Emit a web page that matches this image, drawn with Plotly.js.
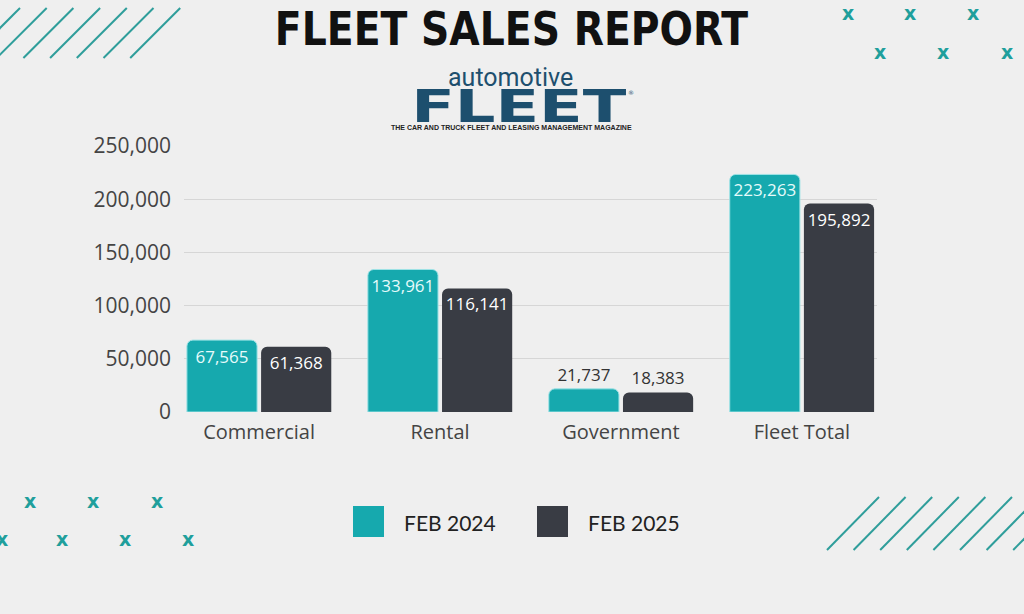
<!DOCTYPE html>
<html>
<head>
<meta charset="utf-8">
<script src="https://cdn.plot.ly/plotly-3.0.1.min.js"></script>
<style>
  html, body { margin: 0; padding: 0; background: #efefef; }
  #chart { width: 1024px; height: 614px; }
</style>
</head>
<body>
<div id="chart"></div>
<script>
// ---- Data ----
const categories = ['Commercial', 'Rental', 'Government', 'Fleet Total'];
const feb2024 = [67565, 133961, 21737, 223263];
const feb2025 = [61368, 116141, 18383, 195892];
const seriesNames = ['FEB 2024', 'FEB 2025'];
const yTickVals = [0, 50000, 100000, 150000, 200000, 250000];
const labelPositions = ['inside', 'inside', 'outside', 'inside'];

// ---- Styles ----
const TEAL = '#16a9ae';
const DARK = '#393c44';
const BG = '#efefef';
const DECO = '#2f9e9b';
const FONT = 'Open Sans, Noto Sans, sans-serif';

// plot area in pixels
const L = 184, R = 877, T = 146, B = 412;
const px = x => (x - L) / (R - L);
const py = y => (B - y) / (B - T);

const traces = [
  {
    type: 'bar', name: seriesNames[0], x: categories, y: feb2024,
    marker: { color: TEAL, cornerradius: 6, line: { color: '#9fe3e6', width: 1 } },
    texttemplate: '%{y:,}', textposition: labelPositions, insidetextanchor: 'end',
    textangle: 0, cliponaxis: false, constraintext: 'none',
    insidetextfont: { family: FONT, size: 17, color: '#e6fbfb' },
    outsidetextfont: { family: FONT, size: 17, color: '#333333' },
    hoverinfo: 'skip', showlegend: false
  },
  {
    type: 'bar', name: seriesNames[1], x: categories, y: feb2025,
    marker: { color: DARK, cornerradius: 6 },
    texttemplate: '%{y:,}', textposition: labelPositions, insidetextanchor: 'end',
    textangle: 0, cliponaxis: false, constraintext: 'none',
    insidetextfont: { family: FONT, size: 17, color: '#ffffff' },
    outsidetextfont: { family: FONT, size: 17, color: '#333333' },
    hoverinfo: 'skip', showlegend: false
  }
];

const shapes = [];
// top-left diagonal lines
for (let k = 0; k < 7; k++) {
  const xt = 20 + 26.7 * k;
  shapes.push({ type: 'line', xref: 'paper', yref: 'paper',
    x0: px(xt - 50), y0: py(58), x1: px(xt), y1: py(8),
    line: { color: DECO, width: 2 } });
}
// bottom-right diagonal lines
for (let k = 0; k < 8; k++) {
  const xb = 827 + 26.6 * k;
  shapes.push({ type: 'line', xref: 'paper', yref: 'paper',
    x0: px(xb), y0: py(550), x1: px(xb + 52), y1: py(497),
    line: { color: DECO, width: 2 } });
}
// legend squares
const legendSq = [[353, TEAL], [537, DARK]];
legendSq.forEach(([x0, c]) => {
  shapes.push({ type: 'rect', xref: 'paper', yref: 'paper',
    x0: px(x0), x1: px(x0 + 31), y0: py(537), y1: py(506),
    fillcolor: c, line: { width: 0 } });
});

const annotations = [];
// x marks
const xMarks = [[848, 14], [910, 14], [973, 14], [880, 53], [943, 53], [1007, 53],
                [30, 502], [93, 502], [157, 502], [2, 540], [62, 540], [125, 540], [188, 540]];
xMarks.forEach(([x, y]) => {
  annotations.push({ xref: 'paper', yref: 'paper', x: px(x), y: py(y - 1),
    text: '<b>x</b>', showarrow: false, xanchor: 'center', yanchor: 'middle',
    font: { family: 'DejaVu Sans, sans-serif', size: 19, color: '#1f9f9c' } });
});
// title
annotations.push({ xref: 'paper', yref: 'paper', x: px(511), y: py(28),
  text: '<b>FLEET SALES REPORT</b>', showarrow: false, xanchor: 'center', yanchor: 'middle',
  font: { family: 'Liberation Sans Narrow, DejaVu Sans Condensed, sans-serif', size: 47, color: '#111111' } });
// logo
annotations.push({ xref: 'paper', yref: 'paper', x: px(510), y: py(78),
  text: 'automotive', showarrow: false, xanchor: 'center', yanchor: 'middle',
  font: { family: 'Roboto, sans-serif', size: 25, color: '#1e4f6e' } });
annotations.push({ xref: 'paper', yref: 'paper', x: px(519), y: py(106),
  text: '<b>FLEET</b>', showarrow: false, xanchor: 'center', yanchor: 'middle',
  font: { family: 'DejaVu Sans, sans-serif', size: 45, color: '#1d4f6e' } });
annotations.push({ xref: 'paper', yref: 'paper', x: px(631), y: py(92),
  text: '®', showarrow: false, xanchor: 'center', yanchor: 'middle',
  font: { family: 'DejaVu Sans, sans-serif', size: 6, color: '#1d4f6e' } });
annotations.push({ xref: 'paper', yref: 'paper', x: px(511), y: py(128),
  text: '<b>THE CAR AND TRUCK FLEET AND LEASING MANAGEMENT MAGAZINE</b>', showarrow: false,
  xanchor: 'center', yanchor: 'middle',
  font: { family: 'Liberation Sans Narrow, sans-serif', size: 7, color: '#222222' } });
// legend labels
const legendText = [[402, seriesNames[0]], [586, seriesNames[1]]];
legendText.forEach(([x, t]) => {
  annotations.push({ xref: 'paper', yref: 'paper', x: px(x), y: py(522),
    text: t, showarrow: false, xanchor: 'left', yanchor: 'middle',
    font: { family: 'Lato, sans-serif', size: 21, color: '#222222' } });
});

const layout = {
  width: 1024, height: 614,
  paper_bgcolor: BG, plot_bgcolor: BG,
  margin: { l: L, r: 1024 - R, t: T, b: 614 - B, pad: 0 },
  barmode: 'group', bargap: 0.18, bargroupgap: 0.054,
  showlegend: false,
  xaxis: {
    type: 'category', range: [-0.415, 3.415],
    showgrid: false, zeroline: false, showline: false, ticks: '',
    tickfont: { family: FONT, size: 20, color: '#444444' },
    ticklabelstandoff: 6, fixedrange: true
  },
  yaxis: {
    range: [0, 250000], tickvals: yTickVals, tickformat: ',',
    showgrid: true, gridcolor: '#d6d6d6', gridwidth: 1,
    zeroline: false, showline: false, ticks: '',
    tickfont: { family: FONT, size: 21, color: '#444444' },
    ticklabelstandoff: 12, fixedrange: true
  },
  shapes: shapes,
  annotations: annotations,
  font: { family: FONT }
};

Plotly.newPlot('chart', traces, layout, { staticPlot: true, displayModeBar: false }).then(() => {
  document.querySelectorAll('.annotation-text').forEach(el => {
    if (el.textContent === 'FLEET') {
      el.style.transformBox = 'fill-box';
      el.style.transformOrigin = 'center';
      el.style.transform = 'scaleX(1.42)';
    }
    if (el.textContent === 'FLEET SALES REPORT') {
      el.style.transformBox = 'fill-box';
      el.style.transformOrigin = 'center';
      el.style.transform = 'scaleX(0.93)';
    }
  });
});
</script>
</body>
</html>
